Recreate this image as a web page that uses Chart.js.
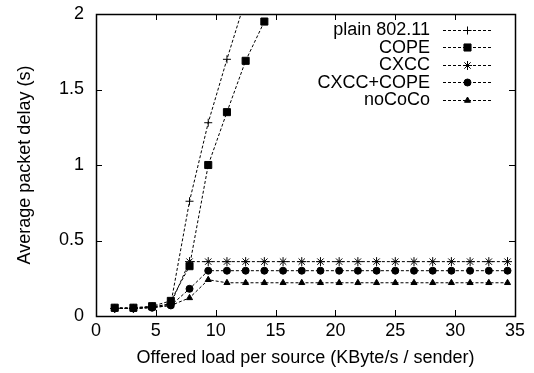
<!DOCTYPE html>
<html>
<head>
<meta charset="utf-8">
<script src="https://cdn.jsdelivr.net/npm/chart.js@4.4.1/dist/chart.umd.min.js"></script>
<style>
  html, body { margin: 0; padding: 0; background: #fff; }
  #wrap { width: 534px; height: 373px; }
</style>
</head>
<body>
<div id="wrap"><canvas id="delayChart" width="534" height="373"></canvas></div>
<script>
// offered load per source (KByte/s / sender)
const loads = [1.5625, 3.125, 4.6875, 6.25, 7.8125, 9.375, 10.9375, 12.5, 14.0625, 15.625, 17.1875,
  18.75, 20.3125, 21.875, 23.4375, 25, 26.5625, 28.125, 29.6875, 31.25, 32.8125, 34.375];

// average packet delay (s) per protocol
const plainDelay = [0.05, 0.05, 0.06, 0.08, 0.76, 1.28, 1.70, 2.10];
const copeDelay = [0.055, 0.055, 0.065, 0.10, 0.33, 1.00, 1.35, 1.69, 1.95];
const cxccDelay = [0.05, 0.05, 0.06, 0.08, 0.36, 0.36, 0.36, 0.36, 0.36, 0.36, 0.36,
  0.36, 0.36, 0.36, 0.36, 0.36, 0.36, 0.36, 0.36, 0.36, 0.36, 0.36];
const cxccCopeDelay = [0.05, 0.05, 0.055, 0.07, 0.18, 0.30, 0.30, 0.30, 0.30, 0.30, 0.30,
  0.30, 0.30, 0.30, 0.30, 0.30, 0.30, 0.30, 0.30, 0.30, 0.30, 0.30];
const nococoDelay = [0.05, 0.05, 0.055, 0.07, 0.12, 0.24, 0.22, 0.22, 0.22, 0.22, 0.22,
  0.22, 0.22, 0.22, 0.22, 0.22, 0.22, 0.22, 0.22, 0.22, 0.22, 0.22];

const seriesNames = ['plain 802.11', 'COPE', 'CXCC', 'CXCC+COPE', 'noCoCo'];
const xTicks = [0, 5, 10, 15, 20, 25, 30, 35];
const yTicks = [0, 0.5, 1, 1.5, 2];

const fontFamily = '"Liberation Sans", Arial, Helvetica, sans-serif';
const axisFont = { family: fontFamily, size: 18 };
const tickLen = 6;

function toPoints(values) {
  return values.map((v, i) => ({ x: loads[i], y: v }));
}

function series(label, values, pointStyle, radius) {
  return {
    label: label,
    data: toPoints(values),
    borderColor: '#000',
    backgroundColor: '#000',
    borderWidth: 1,
    borderDash: [3, 2],
    pointStyle: pointStyle,
    pointRadius: radius,
    pointBorderWidth: 1,
    pointBorderColor: '#000',
    pointBackgroundColor: '#000',
    tension: 0,
    fill: false
  };
}

// gnuplot style frame with ticks pointing inwards on all four sides
const framePlugin = {
  id: 'frame',
  afterDatasetsDraw(chart) {
    const { ctx, chartArea: a, scales: { x, y } } = chart;
    ctx.save();
    ctx.strokeStyle = '#000';
    ctx.lineWidth = 1;
    ctx.setLineDash([]);
    ctx.beginPath();
    x.ticks.forEach(t => {
      const px = Math.round(x.getPixelForValue(t.value)) + 0.5;
      ctx.moveTo(px, a.bottom); ctx.lineTo(px, a.bottom - tickLen);
      ctx.moveTo(px, a.top); ctx.lineTo(px, a.top + tickLen);
    });
    y.ticks.forEach(t => {
      const py = Math.round(y.getPixelForValue(t.value)) + 0.5;
      ctx.moveTo(a.left, py); ctx.lineTo(a.left + tickLen, py);
      ctx.moveTo(a.right, py); ctx.lineTo(a.right - tickLen, py);
    });
    ctx.stroke();
    ctx.lineWidth = 1.5;
    ctx.strokeRect(Math.round(a.left) + 0.5, Math.round(a.top) + 0.5,
      Math.round(a.right - a.left), Math.round(a.bottom - a.top));
    ctx.restore();
  }
};

// key in the top right corner: right aligned label, then a line sample with its marker
const keyPlugin = {
  id: 'key',
  afterDraw(chart) {
    const ctx = chart.ctx;
    const textRight = 430, lineLeft = 443, lineRight = 492, rowTop = 29.5, rowStep = 17.5;
    ctx.save();
    ctx.font = '18px ' + fontFamily;
    ctx.fillStyle = '#000';
    ctx.textAlign = 'right';
    ctx.textBaseline = 'middle';
    chart.data.datasets.forEach((ds, i) => {
      const yy = rowTop + i * rowStep;
      ctx.fillText(ds.label, textRight, yy + 1);
      ctx.strokeStyle = '#000';
      ctx.lineWidth = 1;
      ctx.setLineDash(ds.borderDash);
      ctx.beginPath();
      ctx.moveTo(lineLeft, Math.round(yy) + 0.5);
      ctx.lineTo(lineRight, Math.round(yy) + 0.5);
      ctx.stroke();
      ctx.setLineDash([]);
      Chart.helpers.drawPoint(ctx, {
        pointStyle: ds.pointStyle,
        radius: ds.pointRadius,
        rotation: 0,
        borderWidth: 1
      }, (lineLeft + lineRight) / 2, Math.round(yy) + 0.5);
    });
    ctx.restore();
  }
};

new Chart(document.getElementById('delayChart'), {
  type: 'line',
  data: {
    datasets: [
      series(seriesNames[0], plainDelay, 'cross', 4),
      series(seriesNames[1], copeDelay, 'rect', 5),
      series(seriesNames[2], cxccDelay, 'star', 4.5),
      series(seriesNames[3], cxccCopeDelay, 'circle', 3.5),
      series(seriesNames[4], nococoDelay, 'triangle', 3.5)
    ]
  },
  options: {
    responsive: false,
    animation: false,
    layout: { padding: { top: 14, right: 19, left: 0, bottom: 0 } },
    plugins: { legend: { display: false }, tooltip: { enabled: false } },
    scales: {
      x: {
        type: 'linear',
        min: 0,
        max: 35,
        afterBuildTicks(scale) { scale.ticks = xTicks.map(v => ({ value: v })); },
        ticks: { color: '#000', font: axisFont, padding: 4, maxRotation: 0, callback: v => String(v) },
        grid: { display: false, drawTicks: false },
        border: { display: false },
        title: {
          display: true,
          text: 'Offered load per source (KByte/s / sender)',
          color: '#000',
          font: axisFont,
          padding: { top: 0, bottom: 4 }
        },
        afterFit(scale) {
          scale.height = 57;
          scale.paddingLeft = 0;
          scale.paddingRight = 0;
        }
      },
      y: {
        type: 'linear',
        min: 0,
        max: 2,
        afterBuildTicks(scale) { scale.ticks = yTicks.map(v => ({ value: v })); },
        ticks: { color: '#000', font: axisFont, padding: 12, callback: v => String(v) },
        grid: { display: false, drawTicks: false },
        border: { display: false },
        title: {
          display: true,
          text: 'Average packet delay (s)',
          color: '#000',
          font: axisFont,
          padding: { top: 14, bottom: 0 }
        },
        afterFit(scale) {
          scale.width = 96;
          scale.paddingTop = 0;
          scale.paddingBottom = 0;
        }
      }
    }
  },
  plugins: [framePlugin, keyPlugin]
});
</script>
</body>
</html>
